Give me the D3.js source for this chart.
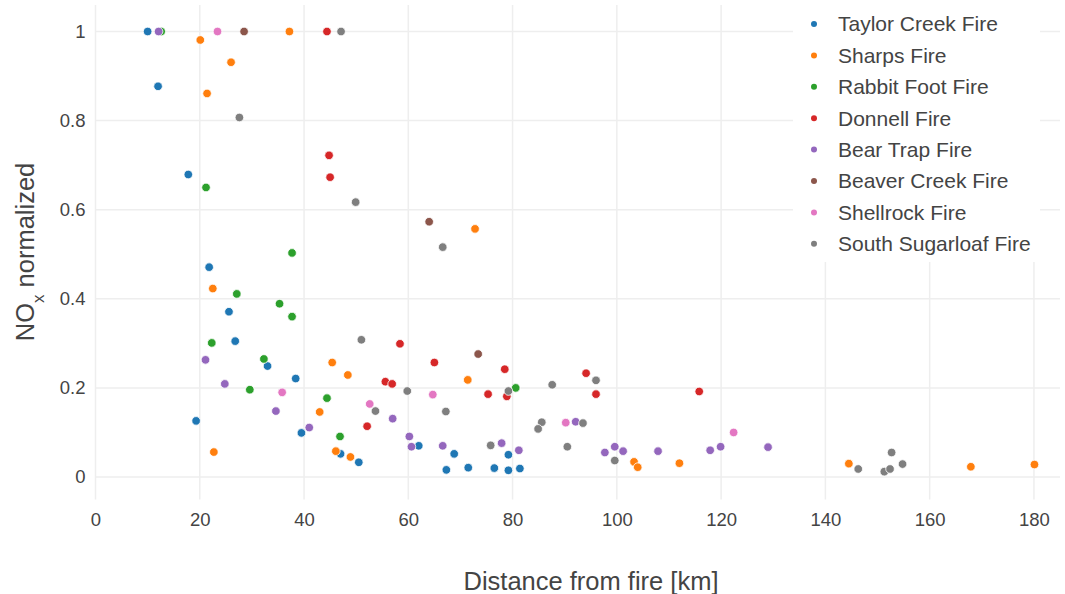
<!DOCTYPE html>
<html>
<head>
<meta charset="utf-8">
<script src="https://cdn.jsdelivr.net/npm/d3@7"></script>
<style>
  body { margin: 0; background: #fff; }
  text { font-family: "Liberation Sans", Arial, sans-serif; fill: #444; }
</style>
</head>
<body>
<script>
//Width and height
var w = 1065;
var h = 594;
var margin = {left: 95.5, right: 5, top: 5, bottom: 94.5};

//Fire names and colours
var fires = ["Taylor Creek Fire", "Sharps Fire", "Rabbit Foot Fire", "Donnell Fire",
             "Bear Trap Fire", "Beaver Creek Fire", "Shellrock Fire", "South Sugarloaf Fire"];
var colors = ["#1f77b4", "#ff7f0e", "#2ca02c", "#d62728", "#9467bd", "#8c564b", "#e377c2", "#7f7f7f"];

//Distance from fire [km] and normalized NOx per fire
var taylorX = [10.0, 12.0, 17.8, 21.8, 25.6, 26.8, 33.0, 38.4, 19.3, 39.5, 47.0, 50.5, 62.0, 68.8, 67.3, 71.5, 76.5, 79.2, 79.2, 81.4];
var taylorY = [1.0, 0.877, 0.679, 0.471, 0.371, 0.305, 0.249, 0.221, 0.126, 0.099, 0.052, 0.033, 0.070, 0.052, 0.016, 0.021, 0.020, 0.050, 0.015, 0.019];

var sharpsX = [37.2, 20.1, 26.0, 21.4, 22.5, 72.8, 45.4, 48.4, 43.0, 22.7, 46.1, 48.9, 71.4, 103.3, 104.0, 112.0, 144.5, 167.9, 180.1];
var sharpsY = [1.0, 0.981, 0.931, 0.861, 0.423, 0.557, 0.257, 0.229, 0.146, 0.056, 0.058, 0.045, 0.218, 0.034, 0.022, 0.031, 0.030, 0.023, 0.028];

var rabbitX = [12.6, 21.2, 37.7, 27.1, 35.3, 37.7, 22.3, 32.3, 29.6, 44.4, 46.9, 80.6];
var rabbitY = [1.0, 0.650, 0.503, 0.411, 0.389, 0.360, 0.301, 0.265, 0.196, 0.177, 0.091, 0.200];

var donnellX = [44.4, 44.8, 45.0, 58.4, 55.6, 56.9, 52.1, 65.0, 78.5, 75.3, 78.9, 94.1, 96.0, 115.8];
var donnellY = [1.0, 0.722, 0.673, 0.299, 0.214, 0.209, 0.114, 0.257, 0.242, 0.186, 0.181, 0.233, 0.186, 0.192];

var bearTrapX = [12.1, 21.1, 24.8, 34.6, 41.0, 57.0, 60.2, 60.6, 66.6, 77.9, 81.2, 92.1, 97.7, 99.6, 101.2, 107.9, 117.9, 119.9, 129.0];
var bearTrapY = [1.0, 0.263, 0.209, 0.148, 0.111, 0.131, 0.091, 0.068, 0.070, 0.076, 0.060, 0.124, 0.055, 0.068, 0.058, 0.058, 0.060, 0.068, 0.067];

var beaverX = [28.5, 64.0, 73.4];
var beaverY = [1.0, 0.573, 0.276];

var shellrockX = [23.4, 35.8, 64.7, 52.6, 90.2, 122.4];
var shellrockY = [1.0, 0.190, 0.185, 0.164, 0.122, 0.100];

var sugarloafX = [47.1, 27.6, 49.9, 51.0, 66.6, 53.7, 59.8, 67.2, 79.2, 87.6, 96.0, 85.6, 84.9, 93.5, 75.8, 90.5, 99.6, 146.3, 152.7, 151.3, 152.4, 154.8];
var sugarloafY = [1.0, 0.807, 0.617, 0.308, 0.516, 0.148, 0.193, 0.147, 0.193, 0.207, 0.217, 0.123, 0.108, 0.121, 0.071, 0.068, 0.037, 0.018, 0.055, 0.012, 0.018, 0.029];

//Tick values
var xTicks = [0, 20, 40, 60, 80, 100, 120, 140, 160, 180];
var yTicks = [0, 0.2, 0.4, 0.6, 0.8, 1];

var seriesX = [taylorX, sharpsX, rabbitX, donnellX, bearTrapX, beaverX, shellrockX, sugarloafX];
var seriesY = [taylorY, sharpsY, rabbitY, donnellY, bearTrapY, beaverY, shellrockY, sugarloafY];

//Build one flat list of points
var dataset = [];
fires.forEach(function(name, i) {
  seriesX[i].forEach(function(x, j) {
    dataset.push({fire: i, x: x, y: seriesY[i][j]});
  });
});

//Create scale functions
var xScale = d3.scaleLinear()
  .domain([0, 185])
  .range([margin.left, w - margin.right]);

var yScale = d3.scaleLinear()
  .domain([-0.0505, 1.0595])
  .range([h - margin.bottom, margin.top]);

//Create SVG element
var svg = d3.select("body")
  .append("svg")
  .attr("width", w)
  .attr("height", h);

//Grid lines
svg.append("g")
  .selectAll("line")
  .data(xTicks)
  .enter()
  .append("line")
  .attr("x1", function(d) { return xScale(d); })
  .attr("x2", function(d) { return xScale(d); })
  .attr("y1", margin.top)
  .attr("y2", h - margin.bottom)
  .attr("stroke", "#eeeeee")
  .attr("stroke-width", 1.5);

svg.append("g")
  .selectAll("line")
  .data(yTicks)
  .enter()
  .append("line")
  .attr("x1", margin.left)
  .attr("x2", w - margin.right)
  .attr("y1", function(d) { return yScale(d); })
  .attr("y2", function(d) { return yScale(d); })
  .attr("stroke", "#eeeeee")
  .attr("stroke-width", 1.5);

//Axes (labels only)
var xAxis = d3.axisBottom(xScale)
  .tickValues(xTicks)
  .tickSize(0)
  .tickPadding(13)
  .tickFormat(d3.format("d"));

var yAxis = d3.axisLeft(yScale)
  .tickValues(yTicks)
  .tickSize(0)
  .tickPadding(8)
  .tickFormat(function(d) { return d === 0 || d === 1 ? d : d3.format(".1f")(d); });

svg.append("g")
  .attr("transform", "translate(0," + (h - margin.bottom) + ")")
  .call(xAxis)
  .call(function(g) { g.select(".domain").remove(); })
  .selectAll("text")
  .style("font-size", "18.5px")
  .attr("fill", "#444");

svg.append("g")
  .attr("transform", "translate(" + (margin.left - 2) + ",0)")
  .call(yAxis)
  .call(function(g) { g.select(".domain").remove(); })
  .selectAll("text")
  .style("font-size", "18.5px")
  .attr("fill", "#444");

//Axis titles
svg.append("text")
  .attr("x", 591)
  .attr("y", 590)
  .attr("text-anchor", "middle")
  .style("font-size", "25.5px")
  .text("Distance from fire [km]");

var yTitle = svg.append("text")
  .attr("transform", "translate(34,252) rotate(-90)")
  .attr("text-anchor", "middle")
  .style("font-size", "25.5px");
yTitle.append("tspan").text("NO");
yTitle.append("tspan").attr("baseline-shift", "sub").style("font-size", "17px").text("x");
yTitle.append("tspan").text(" normalized");

//Create points
svg.append("g")
  .selectAll("circle")
  .data(dataset)
  .enter()
  .append("circle")
  .attr("cx", function(d) { return xScale(d.x); })
  .attr("cy", function(d) { return yScale(d.y); })
  .attr("r", 4.3)
  .attr("fill", function(d) { return colors[d.fire]; })
  .attr("stroke", "#fff")
  .attr("stroke-width", 0.8);

//Legend
var legend = svg.append("g");

legend.append("rect")
  .attr("x", 793)
  .attr("y", 5)
  .attr("width", 247)
  .attr("height", 257)
  .attr("fill", "#fff");

var items = legend.selectAll("g.item")
  .data(fires)
  .enter()
  .append("g")
  .attr("class", "item")
  .attr("transform", function(d, i) { return "translate(814," + (24 + i * 31.4) + ")"; });

items.append("circle")
  .attr("r", 3)
  .attr("fill", function(d, i) { return colors[i]; });

items.append("text")
  .attr("x", 24)
  .attr("dy", "0.35em")
  .style("font-size", "21px")
  .text(function(d) { return d; });
</script>
</body>
</html>
